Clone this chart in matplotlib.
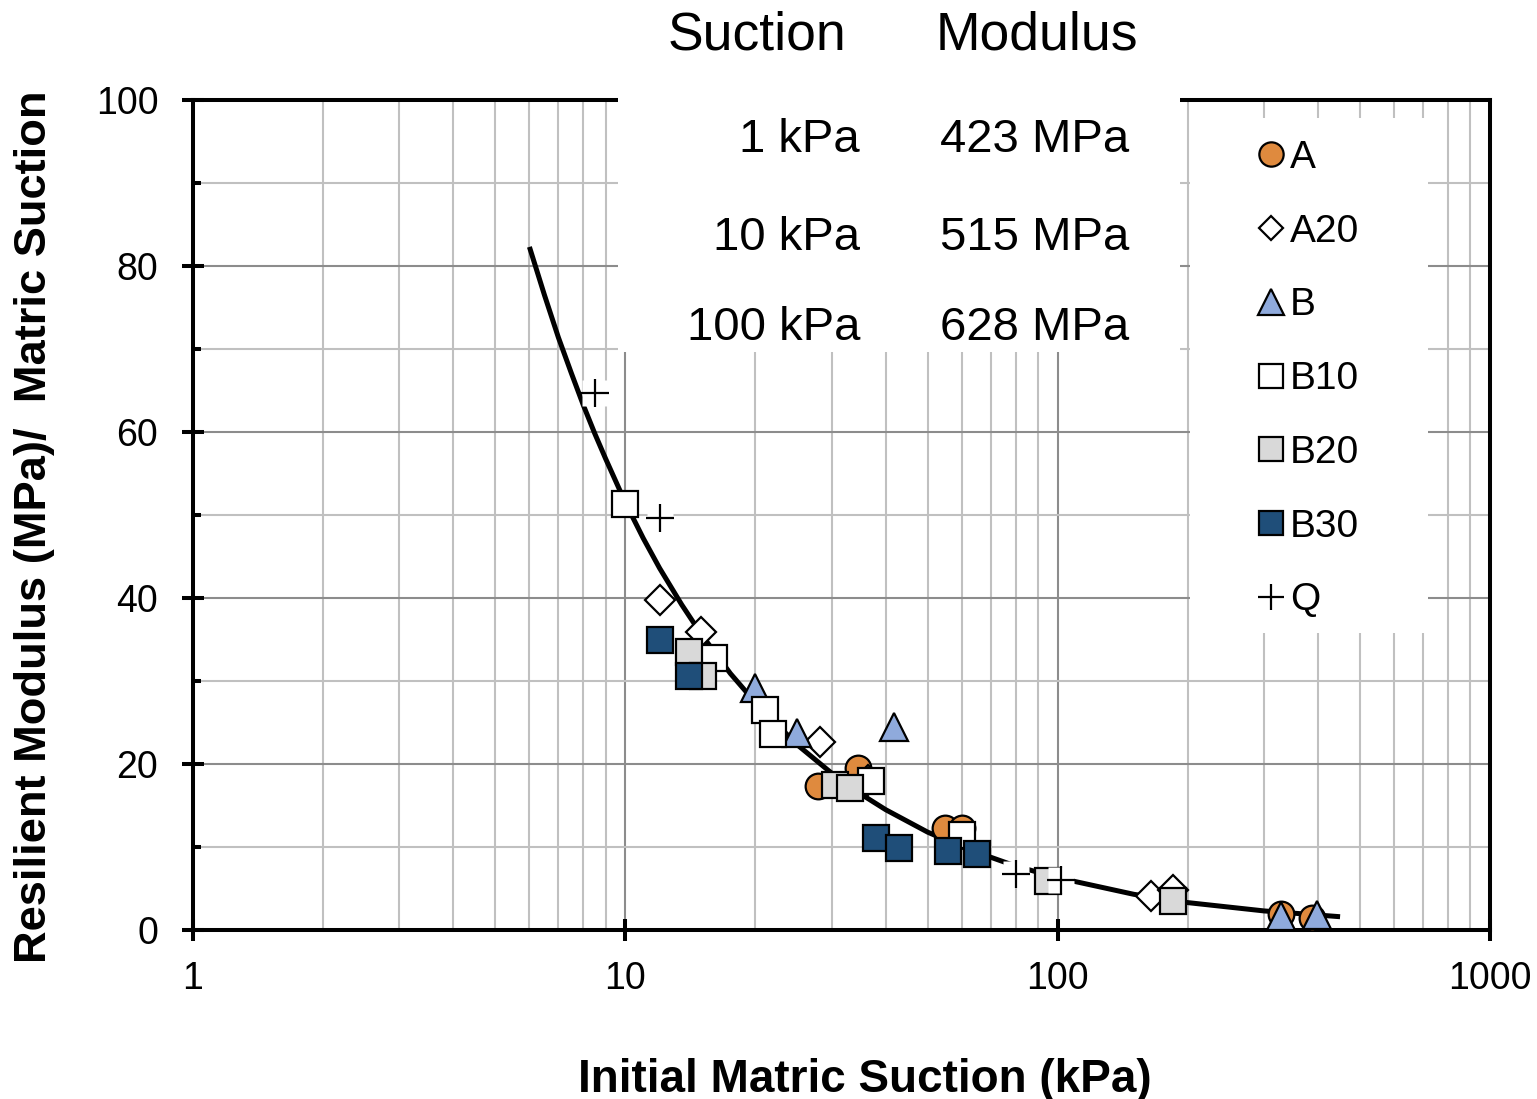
import numpy as np
import matplotlib
matplotlib.use('Agg')
import matplotlib.pyplot as plt
from matplotlib.lines import Line2D
from matplotlib.patches import Rectangle
from matplotlib.ticker import FixedLocator, NullFormatter

plt.rcParams['font.family'] = ['Liberation Sans', 'DejaVu Sans']

# 读图得到的数据点
A_x = [27.9, 34.6, 54.9, 60.0, 328.6, 386.9]
A_y = [17.3, 19.5, 12.3, 12.3, 1.9, 1.5]
A20_x = [12.0, 15.0, 28.2, 36.5, 164.0, 184.5]
A20_y = [39.8, 35.9, 22.7, 18.1, 4.1, 4.8]
B_x = [20.0, 24.9, 41.9, 328.6, 398.7]
B_y = [29.2, 23.7, 24.5, 1.7, 1.85]
B10_x = [10.0, 16.0, 21.0, 22.0, 37.1, 60.0]
B10_y = [51.3, 32.8, 26.5, 23.6, 17.9, 11.5]
B20_x = [14.0, 15.15, 30.5, 33.0, 94.8, 184.5]
B20_y = [33.5, 30.6, 17.5, 17.1, 5.9, 3.5]
B30_x = [12.0, 14.0, 38.0, 43.0, 55.9, 65.0]
B30_y = [34.9, 30.6, 11.1, 9.9, 9.5, 9.1]
Q_x = [8.5, 12.0, 80.0, 101.8]
Q_y = [64.7, 49.6, 6.8, 6.0]

# 拟合曲线(从图上读的点)
fit_x = [6, 6.5, 7, 7.5, 8, 8.5, 9, 10, 11, 12, 13.5, 15, 17.5, 20, 25, 30, 35, 40, 50, 60, 80,
         100, 150, 200, 300, 450]
fit_y = [82.3, 76.5, 71.4, 67.1, 63.2, 59.8, 56.8, 51.5, 47.2, 43.6, 39.2, 35.6, 30.9, 27.4, 22.3,
         18.9, 16.4, 14.5, 11.8, 10.0, 7.7, 6.3, 4.3, 3.3, 2.3, 1.6]

# 表格
tab_suction = ['1 kPa', '10 kPa', '100 kPa']
tab_modulus = ['423 MPa', '515 MPa', '628 MPa']

W, H = 1537, 1099
fig = plt.figure(figsize=(W / 100, H / 100), dpi=100)
ax = fig.add_axes([193 / W, 1 - 930 / H, (1490 - 193) / W, (930 - 100) / H])

ax.set_xscale('log')
ax.set_xlim(1, 1000)
ax.set_ylim(0, 100)
ax.xaxis.set_major_locator(FixedLocator([1, 10, 100, 1000]))
ax.set_xticklabels(['1', '10', '100', '1000'])
ax.xaxis.set_minor_locator(FixedLocator([m * 10 ** e for e in range(3) for m in range(2, 10)]))
ax.xaxis.set_minor_formatter(NullFormatter())
ax.set_yticks(range(0, 101, 20))
ax.yaxis.set_minor_locator(FixedLocator(range(10, 100, 20)))

ax.set_axisbelow(True)
ax.grid(which='major', color='#8c8c8c', lw=1.5)
ax.grid(which='minor', color='#c0c0c0', lw=1.5)

for s in ax.spines.values():
    s.set_linewidth(2.9)
    s.set_color('black')

ax.tick_params(axis='both', which='major', direction='inout', length=16, width=2.9,
               labelsize=27, colors='black')
ax.tick_params(axis='x', which='major', pad=14)
ax.tick_params(axis='y', which='major', pad=17)
ax.tick_params(axis='y', which='minor', direction='in', length=6, width=2.9)
ax.tick_params(axis='x', which='minor', length=0)

# 白色遮挡框 (表格, 图例)
ax.add_patch(Rectangle((0.3277, 0.6964), 0.7610 - 0.3277, 0.40, transform=ax.transAxes,
                       facecolor='white', edgecolor='none', zorder=2.6, clip_on=False))
ax.add_patch(Rectangle((0.7687, 0.3578), 0.9522 - 0.7687, 0.978 - 0.3578, transform=ax.transAxes,
                       facecolor='white', edgecolor='none', zorder=2.6))

ax.plot(fit_x, fit_y, color='black', lw=3.6, zorder=3, solid_capstyle='butt')

ew = 1.6
ax.plot(A_x, A_y, ls='none', marker='o', ms=18.5, mfc='#DF8A3E', mec='black', mew=ew, zorder=4)
ax.plot(A20_x, A20_y, ls='none', marker='D', ms=15, mfc='white', mec='black', mew=ew, zorder=5)
ax.plot(B_x, B_y, ls='none', marker='^', ms=20, mfc='#8FAADC', mec='black', mew=ew, zorder=6)
ax.plot(B10_x, B10_y, ls='none', marker='s', ms=18.5, mfc='white', mec='black', mew=ew, zorder=7)
ax.plot(B20_x, B20_y, ls='none', marker='s', ms=18.5, mfc='#D9D9D9', mec='black', mew=ew, zorder=8)
ax.plot(B30_x, B30_y, ls='none', marker='s', ms=18.5, mfc='#1F4E79', mec='black', mew=ew, zorder=9)
ax.plot(Q_x, Q_y, ls='none', marker='s', ms=19, mfc='white', mec='none', zorder=10)
ax.plot(Q_x, Q_y, ls='none', marker='+', ms=19.5, mec='black', mew=1.6, zorder=11)

handles = [
    Line2D([], [], ls='none', marker='o', ms=17.5, mfc='#DF8A3E', mec='black', mew=ew, label='A'),
    Line2D([], [], ls='none', marker='D', ms=12.5, mfc='white', mec='black', mew=ew, label='A20'),
    Line2D([], [], ls='none', marker='^', ms=18.5, mfc='#8FAADC', mec='black', mew=ew, label='B'),
    Line2D([], [], ls='none', marker='s', ms=17, mfc='white', mec='black', mew=ew, label='B10'),
    Line2D([], [], ls='none', marker='s', ms=17, mfc='#D9D9D9', mec='black', mew=ew, label='B20'),
    Line2D([], [], ls='none', marker='s', ms=17, mfc='#1F4E79', mec='black', mew=ew, label='B30'),
    Line2D([], [], ls='none', marker='+', ms=18.5, mec='black', mew=1.6, label='Q'),
]
leg = ax.legend(handles=handles, loc='upper left', bbox_to_anchor=(1255 / W, 1 - 140 / H),
                bbox_transform=fig.transFigure, frameon=False, fontsize=28, labelspacing=0.97,
                handlelength=0.8, handletextpad=0.1, borderpad=0, borderaxespad=0)
leg.set_zorder(12)

# 表格文字
fig.text(757 / W, 1 - 50 / H, 'Suction', fontsize=38.5, ha='center', va='baseline')
fig.text(1037 / W, 1 - 50 / H, 'Modulus', fontsize=38.5, ha='center', va='baseline')
for i, (s, m) in enumerate(zip(tab_suction, tab_modulus)):
    yb = [152, 250, 340][i]
    fig.text(860 / W, 1 - yb / H, s, fontsize=34, ha='right', va='baseline')
    fig.text(940 / W, 1 - yb / H, m, fontsize=34, ha='left', va='baseline')

fig.text(864.5 / W, 1 - 1092 / H, 'Initial Matric Suction (kPa)', fontsize=33, fontweight='bold',
         ha='center', va='baseline')
fig.text(35 / W, 1 - 527 / H, 'Resilient Modulus (MPa)/  Matric Suction', fontsize=32.6,
         fontweight='bold', rotation=90, ha='center', va='center')

fig.savefig('out.png', dpi=100)
